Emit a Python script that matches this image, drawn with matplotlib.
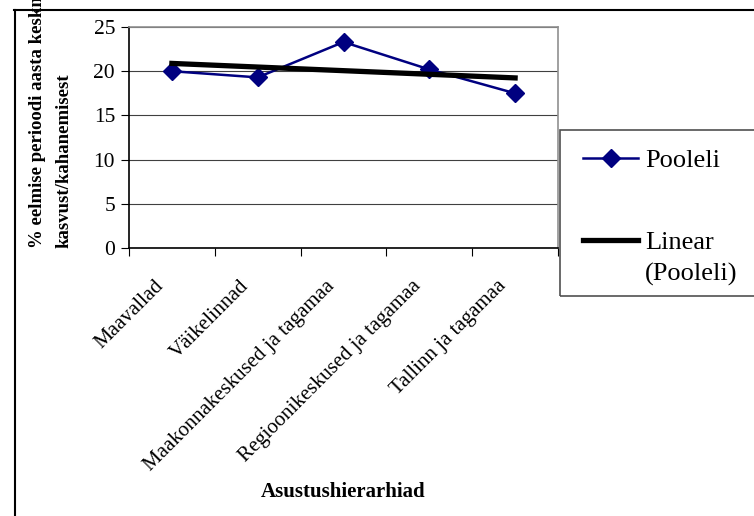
import numpy as np
import matplotlib
matplotlib.use('Agg')
import matplotlib.pyplot as plt
from matplotlib.lines import Line2D
from matplotlib.patches import Rectangle
from matplotlib.transforms import ScaledTranslation

# Andmed
kategooriad = ['Maavallad', 'Väikelinnad', 'Maakonnakeskused ja tagamaa',
               'Regioonikeskused ja tagamaa', 'Tallinn ja tagamaa']
pooleli = [20.0, 19.3, 23.3, 20.2, 17.5]
y_ticks = [0, 5, 10, 15, 20, 25]

plt.rcParams['font.family'] = ['Liberation Serif', 'DejaVu Serif']

W, H = 754, 516
fig = plt.figure(figsize=(W / 100, H / 100), dpi=100)
ax = fig.add_axes([129 / W, 1 - 248 / H, (558 - 129) / W, (248 - 27) / H])

x = np.arange(1, len(pooleli) + 1)
# Lineaarne trend
k, b = np.polyfit(x, pooleli, 1)

ax.plot(x, pooleli, color='#000080', lw=1.8, marker='D', ms=9.5,
        markerfacecolor='#000080', markeredgecolor='#000080', zorder=3,
        label='Pooleli')
ax.plot(x, k * x + b, color='black', lw=3.8, zorder=4, label='Linear')

ax.set_xlim(0.5, len(pooleli) + 0.5)
ax.set_ylim(0, 25)
ax.set_yticks(y_ticks)
ax.set_yticklabels([str(v) for v in y_ticks], fontsize=15.5)
ax.yaxis.grid(True, color='#404040', lw=0.8)
ax.set_axisbelow(True)

# kategooriate piirid
ax.set_xticks(np.arange(0.5, len(pooleli) + 1, 1))
ax.set_xticklabels([])
ax.set_xticks(x, minor=True)
ax.set_xticklabels(kategooriad, minor=True, rotation=45, ha='right',
                   rotation_mode='anchor', fontsize=15)
ax.tick_params(axis='x', which='minor', length=0, pad=12)
ax.tick_params(axis='x', which='major', length=6, color='black', direction='out')
ax.tick_params(axis='y', length=6, direction='out', pad=4)
nihe = ScaledTranslation(-18 / 100, -12 / 100, fig.dpi_scale_trans)
for lbl in ax.get_xticklabels(minor=True):
    lbl.set_transform(lbl.get_transform() + nihe)

for s in ['top', 'right']:
    ax.spines[s].set_color('#909090')
    ax.spines[s].set_linewidth(1.2)
for s in ['left', 'bottom']:
    ax.spines[s].set_color('black')
    ax.spines[s].set_linewidth(1.2)

ax.set_xlabel('Asustushierarhiad', fontsize=15, fontweight='bold')
ax.xaxis.set_label_coords(343 / W, 1 - 492 / H, transform=fig.transFigure)
ax.xaxis.label.set_verticalalignment('center')

fig.text(51 / W, 1 - 248 / H,
         '% eelmise perioodi aasta keskmisest\nkasvust/kahanemisest',
         rotation=90, ha='center', va='bottom', multialignment='left',
         fontsize=13.5, fontweight='bold', linespacing=1.7)

# legendi kast
fig.patches.append(Rectangle((560 / W, 1 - 296 / H), 220 / W, 166 / H,
                             transform=fig.transFigure, fill=False,
                             edgecolor='#505050', lw=1.2))
leg = ax.legend(loc='upper left', bbox_to_anchor=(583 / W, 1 - 149 / H),
                bbox_transform=fig.transFigure, frameon=False, fontsize=19,
                handlelength=2.1, handletextpad=0.25, labelspacing=2.2,
                borderpad=0, borderaxespad=0)
fig.text(645 / W, 1 - 274 / H, '(Pooleli)', fontsize=19, ha='left', va='center')

# raami jooned
fig.add_artist(Line2D([14 / W, 1], [1 - 9.5 / H, 1 - 9.5 / H],
                      transform=fig.transFigure, color='black', lw=1.5))
fig.add_artist(Line2D([14.5 / W, 14.5 / W], [0, 1 - 9.5 / H],
                      transform=fig.transFigure, color='black', lw=1.5))

fig.savefig('out.png', dpi=100)
